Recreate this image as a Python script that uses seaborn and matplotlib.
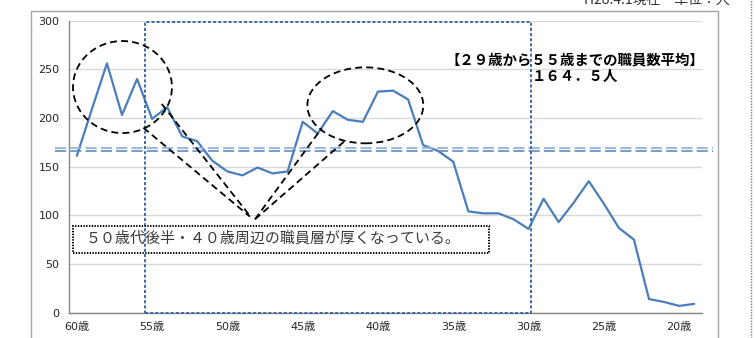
import numpy as np
import pandas as pd
import seaborn as sns
import matplotlib.pyplot as plt
from matplotlib.patches import Ellipse, Rectangle
from matplotlib.lines import Line2D

# 年齢別職員数 (60歳 -> 19歳)
ages = list(range(60, 18, -1))
staff = [161, 209, 256, 203, 240, 199, 211, 181, 176, 156,
         145, 141, 149, 143, 145, 196, 184, 207, 198, 196,
         227, 228, 219, 172, 166, 155, 104, 102, 102, 96,
         86, 117, 93, 113, 135, 112, 87, 75, 14, 11, 7, 9]
tick_ages = [a for a in ages if a % 5 == 0]
mean_label = "【２９歳から５５歳までの職員数平均】\n１６４．５人"
note_label = "５０歳代後半・４０歳周辺の職員層が厚くなっている。"
corner_label = "H28.4.1現在　単位：人"

sns.set_style("white")
plt.rcParams['font.family'] = ['DejaVu Sans', 'Noto Sans CJK JP']
plt.rcParams['lines.scale_dashes'] = False
jp = ['Noto Sans CJK JP', 'DejaVu Sans']

df = pd.DataFrame({"pos": np.arange(len(ages)), "staff": staff})

fig = plt.figure(figsize=(7.55, 3.38), dpi=100)
ax = fig.add_axes([0.0918, 0.0749, 0.8376, 0.8644])

sns.lineplot(data=df, x="pos", y="staff", ax=ax, color="#4A7EBB", linewidth=1.6)

ax.set_xlim(-0.5, len(ages) - 0.5)
ax.set_ylim(0, 300)
ax.set_yticks(range(0, 301, 50))
ax.set_xticks(np.arange(-0.5, len(ages), 5))
ax.set_xticklabels([])
ax.set_xticks([ages.index(a) for a in tick_ages], minor=True)
ax.set_xticklabels([f"{a}歳" for a in tick_ages], minor=True)
ax.tick_params(axis="x", which="major", length=3, color="#868686")
ax.tick_params(axis="x", which="minor", length=0, pad=7, labelsize=8, labelcolor="#262626")
ax.tick_params(axis="y", length=3, color="#868686", pad=4, labelsize=8, labelcolor="#262626")
ax.set_xlabel("")
ax.set_ylabel("")
ax.grid(axis="y", color="#D9D9D9", linewidth=1)
ax.set_axisbelow(True)
for s in ["top", "right"]:
    ax.spines[s].set_visible(False)
for s in ["left", "bottom"]:
    ax.spines[s].set_color("#868686")
    ax.spines[s].set_linewidth(1)

# 平均線 (二重破線)
ytr = ax.get_yaxis_transform()
ax.plot([-0.0226, 1.018], [168.8, 168.8], transform=ytr, color="#95B3D7",
        linewidth=1.3, linestyle=(0, (8, 3)), clip_on=False)
ax.plot([-0.0226, 1.018], [166.4, 166.4], transform=ytr, color="#4F81BD",
        linewidth=1.1, linestyle=(0, (8, 3)), clip_on=False)

# 29歳〜55歳の範囲
ax.add_patch(Rectangle((4.53, 0), 30.16 - 4.53, 298.8, fill=False, edgecolor="#3E6BA3",
                       linewidth=1.4, linestyle=(0, (2.2, 1.5)), clip_on=False, zorder=3))

# 楕円と引き出し線
dash = (0, (5, 3))
ax.add_patch(Ellipse((3.03, 231.7), 6.57, 94.5, fill=False, edgecolor="black",
                     linewidth=1.3, linestyle=dash, zorder=4))
ax.add_patch(Ellipse((19.16, 212.9), 7.70, 78.0, fill=False, edgecolor="black",
                     linewidth=1.3, linestyle=dash, zorder=4))
for (x0, y0), (x1, y1) in [((4.42, 189.9), (11.50, 98.6)),
                           ((5.64, 214.3), (11.50, 99.3)),
                           ((11.83, 95.9), (16.26, 189.3)),
                           ((11.83, 95.9), (17.74, 175.6))]:
    ax.plot([x0, x1], [y0, y1], color="black", linewidth=1.3, linestyle=dash, zorder=4)

# 注記
ax.add_patch(Rectangle((-0.25, 61.3), 27.62, 27.7, fill=False, edgecolor="black",
                       linewidth=1.4, linestyle=(0, (1, 1)), clip_on=False, zorder=5))
ax.text(0.62, 76.0, note_label, family=jp, fontsize=10.8, color="#3A3A3A",
        ha="left", va="center", zorder=6)
ax.text(33.05, 250.5, mean_label, family=jp, fontsize=10.4, fontweight="bold",
        color="black", ha="center", va="center", linespacing=1.25, zorder=6)

# 外枠など
fig.add_artist(Rectangle((30.5 / 755, -0.1), (718 - 30.5) / 755, 1.1 - 10.5 / 338,
                         transform=fig.transFigure, fill=False, edgecolor="#A6A6A6", linewidth=1))
fig.add_artist(Line2D([751 / 755, 751 / 755], [0, 1], transform=fig.transFigure,
                      color="#808080", linewidth=1, linestyle=(0, (1, 1))))
fig.text(730 / 755, 1.0, corner_label, family=jp, fontsize=10, color="#333333",
         ha="right", va="center")

fig.savefig("out.png", dpi=100)
